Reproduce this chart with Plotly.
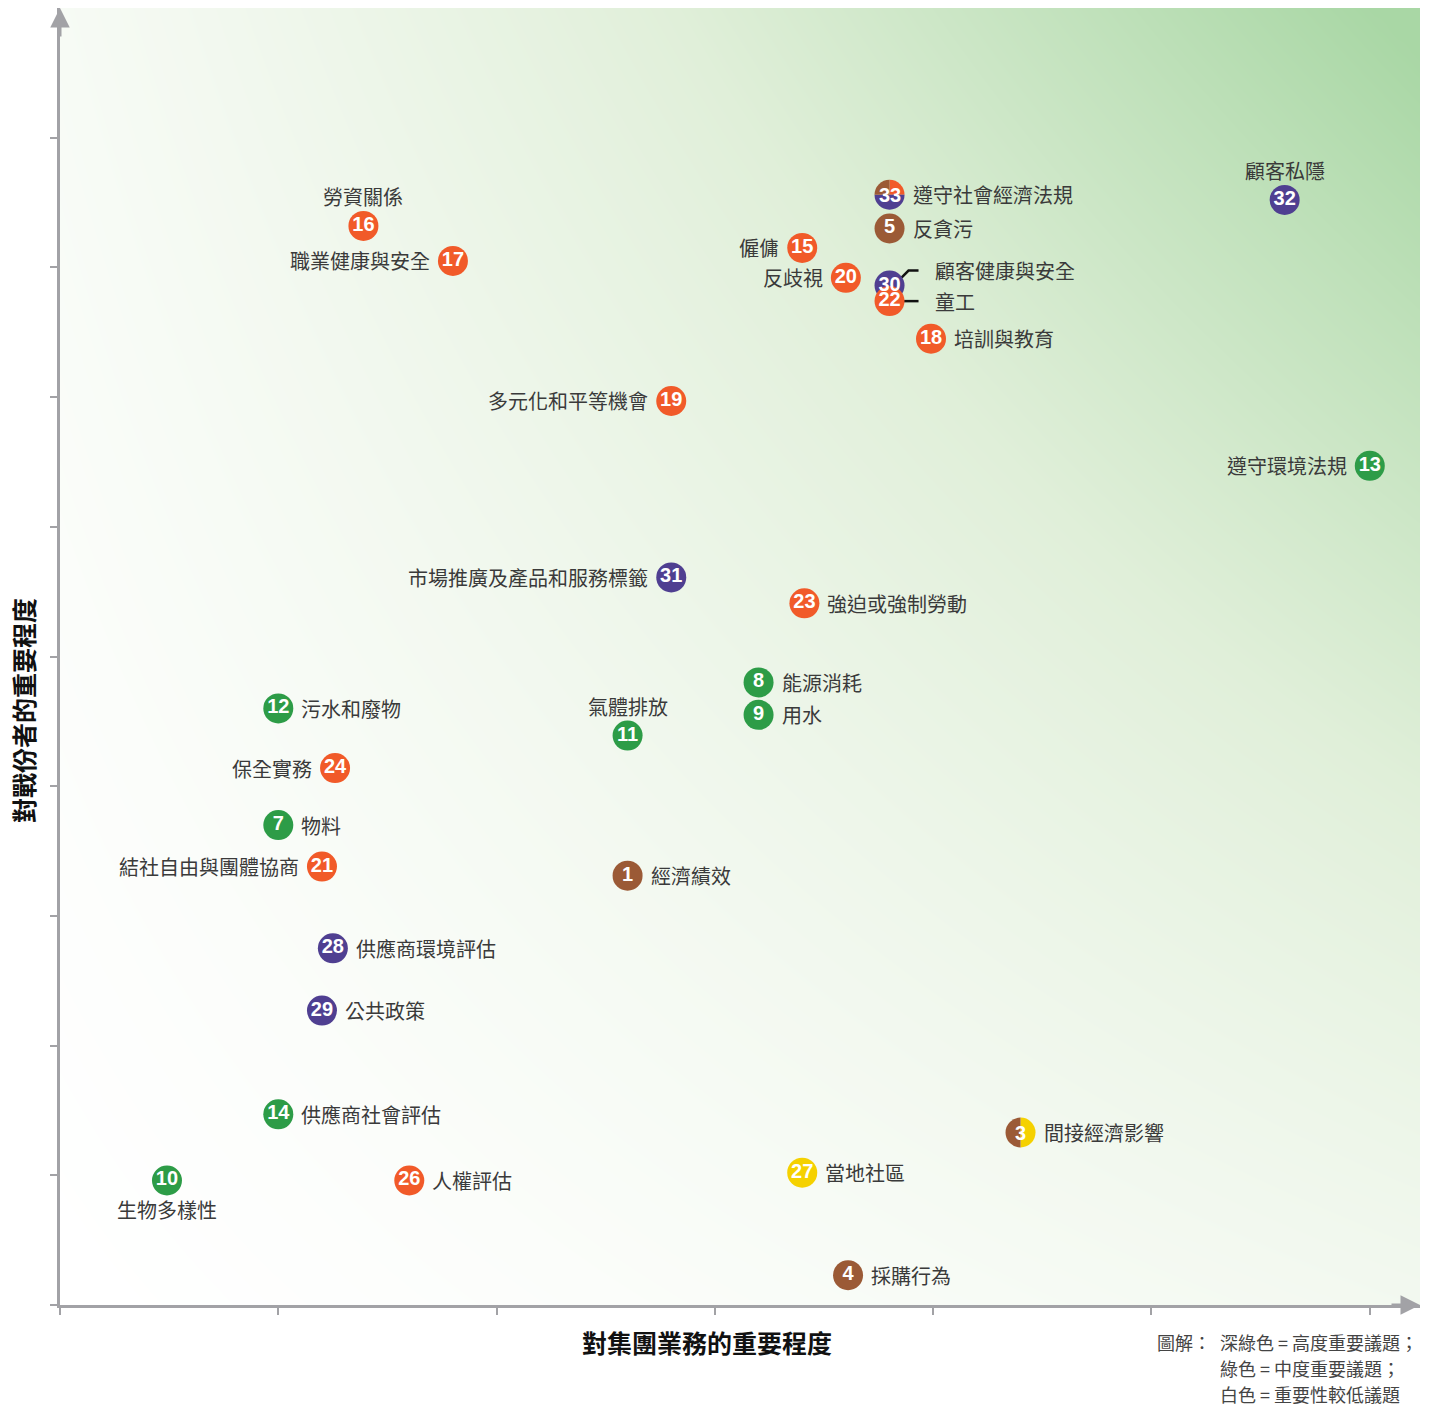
import plotly.graph_objects as go
import numpy as np

# ---------------- data ----------------
ids = [1, 3, 4, 5, 7, 8, 9, 10, 11, 12, 13, 14, 15, 16, 17, 18, 19, 20, 21,
       23, 24, 26, 27, 28, 29, 31, 32, 33, 30, 22]
xs = [2.60, 4.40, 3.61, 3.80, 1.00, 3.20, 3.20, 0.49, 2.60, 1.00, 6.00, 1.00,
      3.40, 1.39, 1.80, 3.99, 2.80, 3.60, 1.20, 3.41, 1.26, 1.60, 3.40, 1.25,
      1.20, 2.80, 5.61, 3.80, 3.80, 3.80]
ys = [3.31, 1.33, 0.23, 8.30, 3.70, 4.80, 4.55, 0.96, 4.39, 4.60, 6.47, 1.47,
      8.15, 8.32, 8.05, 7.45, 6.97, 7.92, 3.38, 5.41, 4.14, 0.96, 1.02, 2.75,
      2.27, 5.61, 8.52, 8.56, 7.86, 7.74]
# split categories are listed clockwise from 12 o'clock
cats = ["eco", "com/eco", "eco", "eco", "env", "env", "env", "env", "env", "env",
        "env", "env", "lab", "lab", "lab", "lab", "lab", "lab", "lab", "lab",
        "lab", "lab", "com", "prod", "prod", "prod", "prod", "lab/prod/eco",
        "prod", "lab"]
labels = ["經濟績效", "間接經濟影響", "採購行為", "反貪污", "物料", "能源消耗", "用水",
          "生物多樣性", "氣體排放", "污水和廢物", "遵守環境法規", "供應商社會評估",
          "僱傭", "勞資關係", "職業健康與安全", "培訓與教育", "多元化和平等機會",
          "反歧視", "結社自由與團體協商", "強迫或強制勞動", "保全實務", "人權評估",
          "當地社區", "供應商環境評估", "公共政策", "市場推廣及產品和服務標籤",
          "顧客私隱", "遵守社會經濟法規", "顧客健康與安全", "童工"]
label_pos = ["right", "right", "right", "right", "right", "right", "right",
             "bottom", "top", "right", "left", "right", "left", "top", "left",
             "right", "left", "left", "left", "right", "left", "right", "right",
             "right", "right", "left", "top", "right", "conn_up", "conn"]

x_ticks = [0, 1, 2, 3, 4, 5, 6]
y_ticks = [0, 1, 2, 3, 4, 5, 6, 7, 8, 9]
x_title = "對集團業務的重要程度"
y_title = "對戰份者的重要程度"
legend_head = "圖解："
legend_lines = ["深綠色 = 高度重要議題；", "綠色 = 中度重要議題；", "白色 = 重要性較低議題"]

# ---------------- styling ----------------
COL = {"eco": "#9b5a36", "env": "#2d9c47", "lab": "#f15a29",
       "prod": "#4f3f91", "com": "#f5d100"}
W, H = 1416, 1407
ML, MR, MT, MB = 52, 4, 0, 110
XMAX, YMAX = 6.23, 10.0
PX = (W - ML - MR) / XMAX
PY = (H - MT - MB) / YMAX
AXC = "#a2a2a6"
CJK = "Noto Sans CJK TC"
TXT = "#3a3a3a"

fig = go.Figure()

# background gradient
gx = np.linspace(0, XMAX, 60)
gy = np.linspace(0, YMAX, 60)
U, V = np.meshgrid(gx / XMAX, gy / YMAX)
Z = 0.28 * U + 0.2 * V + 0.55 * (U * V)
Z = np.clip(Z, 0, 1) ** 1.25
fig.add_trace(go.Heatmap(x=gx, y=gy, z=Z, zsmooth="best", showscale=False,
                         colorscale=[[0, "#ffffff"], [0.5, "#e0efd9"], [1, "#a9d7a5"]],
                         zmin=0, zmax=1, hoverinfo="skip"))

# connectors for 30 / 22
i30 = ids.index(30)
i22 = ids.index(22)
x30, y30 = xs[i30], ys[i30]
x22, y22 = xs[i22], ys[i22]
fig.add_trace(go.Scatter(
    x=[x30 + 12 / PX, x30 + 19 / PX, x30 + 29 / PX, None, x22 + 14 / PX, x22 + 29 / PX],
    y=[y30 + 8 / PY, y30 + 15 / PY, y30 + 15 / PY, None, y22, y22],
    mode="lines", line=dict(color="#111111", width=2.5), hoverinfo="skip",
    showlegend=False))

# single-colour markers
sx, sy, sc, st = [], [], [], []
for i, c in enumerate(cats):
    if "/" in c:
        continue
    sx.append(xs[i]); sy.append(ys[i]); sc.append(COL[c]); st.append(str(ids[i]))
NUMFONT = dict(family="Liberation Sans", size=20, color="white", weight="bold")
fig.add_trace(go.Scatter(
    x=sx, y=sy, mode="markers+text", text=st, textposition="middle center",
    marker=dict(size=30, color=sc, line=dict(width=0)),
    textfont=NUMFONT, cliponaxis=False, hoverinfo="skip", showlegend=False))

annotations = []

# split markers as small pies (clockwise from 12 o'clock)
rx, ry = 15 / PX, 15 / PY
for i, c in enumerate(cats):
    if "/" not in c:
        continue
    parts = c.split("/")
    vals = [1, 1] if len(parts) == 2 else [1, 2, 1]
    cols = [COL[p] for p in parts]
    fig.add_trace(go.Pie(
        values=vals, marker=dict(colors=cols, line=dict(width=0)), sort=False,
        direction="clockwise", rotation=0, textinfo="none", hoverinfo="skip",
        showlegend=False,
        domain=dict(x=[(xs[i] - rx) / XMAX, (xs[i] + rx) / XMAX],
                    y=[(ys[i] - ry) / YMAX, (ys[i] + ry) / YMAX])))
    annotations.append(dict(x=xs[i], y=ys[i], xref="x", yref="y", text=str(ids[i]),
                            showarrow=False, font=NUMFONT))

# labels
for i, lab in enumerate(labels):
    p = label_pos[i]
    a = dict(x=xs[i], y=ys[i], xref="x", yref="y", text=lab, showarrow=False,
             yanchor="middle", font=dict(family=CJK, size=20, color=TXT))
    if p == "right":
        a.update(xanchor="left", xshift=21)
    elif p == "left":
        a.update(xanchor="right", xshift=-21)
    elif p == "top":
        a.update(xanchor="center", yshift=29)
    elif p == "bottom":
        a.update(xanchor="center", yshift=-29)
    elif p == "conn_up":
        a.update(xanchor="left", xshift=43, yshift=15)
    elif p == "conn":
        a.update(xanchor="left", xshift=43)
    annotations.append(a)

# axis arrows
annotations.append(dict(x=XMAX, y=0, xref="x", yref="y", ax=-30, ay=0,
                        text="", showarrow=True, arrowhead=2,
                        arrowsize=1.3, arrowwidth=3, arrowcolor=AXC))
annotations.append(dict(x=0, y=YMAX, xref="x", yref="y", ax=0, ay=30, text="",
                        showarrow=True, arrowhead=2, arrowsize=1.3, arrowwidth=3,
                        arrowcolor=AXC))


# window pixel -> paper coordinates (page has an 8px body margin)
def pxx(p):
    return (p - 8 - ML) / (W - ML - MR)


def pxy(p):
    return (H - MB - (p - 8)) / (H - MT - MB)


# axis titles
annotations.append(dict(x=pxx(707), y=pxy(1342), xref="paper", yref="paper",
                        xanchor="center", yanchor="middle",
                        text=x_title, showarrow=False,
                        font=dict(family=CJK, size=25, color="#111111", weight="bold")))
annotations.append(dict(x=pxx(23), y=pxy(711), xref="paper", yref="paper",
                        xanchor="center", yanchor="middle",
                        text=y_title, showarrow=False, textangle=-90,
                        font=dict(family=CJK, size=25, color="#111111", weight="bold")))
# legend note
annotations.append(dict(x=pxx(1213), y=pxy(1342), xref="paper", yref="paper",
                        xanchor="right", yanchor="middle", text=legend_head,
                        showarrow=False,
                        font=dict(family=CJK, size=18, color="#444444")))
for k, line in enumerate(legend_lines):
    annotations.append(dict(x=pxx(1218), y=pxy(1342 + 26 * k), xref="paper",
                            yref="paper", xanchor="left", yanchor="middle",
                            text=line, showarrow=False,
                            font=dict(family=CJK, size=18, color="#444444")))

fig.update_layout(
    width=W, height=H, margin=dict(l=ML, r=MR, t=MT, b=MB),
    paper_bgcolor="white", plot_bgcolor="white", showlegend=False,
    annotations=annotations,
    xaxis=dict(range=[0, XMAX], showgrid=False, zeroline=False, showline=True,
               linecolor=AXC, linewidth=3, ticks="outside", tickvals=x_ticks,
               ticklen=7, tickwidth=2, tickcolor=AXC, showticklabels=False,
               fixedrange=True),
    yaxis=dict(range=[0, YMAX], showgrid=False, zeroline=False, showline=True,
               linecolor=AXC, linewidth=3, ticks="outside", tickvals=y_ticks,
               ticklen=7, tickwidth=2, tickcolor=AXC, showticklabels=False,
               fixedrange=True),
)

fig.write_html("out.html")
